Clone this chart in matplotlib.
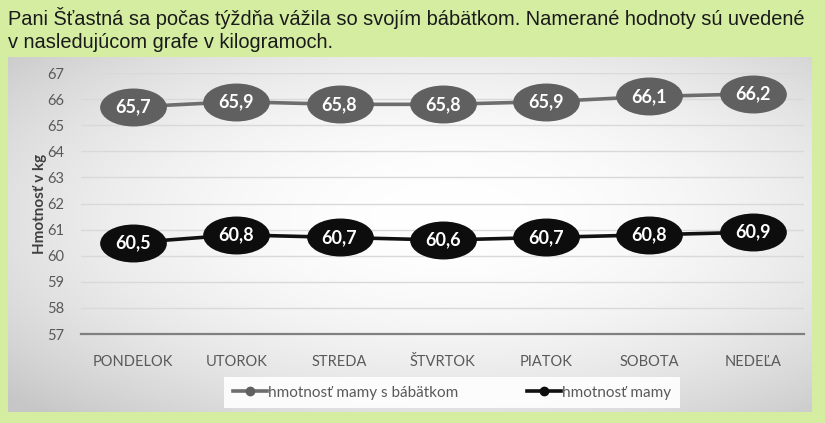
import numpy as np
import matplotlib
matplotlib.use("Agg")
import matplotlib.pyplot as plt
from matplotlib.path import Path
from matplotlib.lines import Line2D

days = ["PONDELOK", "UTOROK", "STREDA", "ŠTVRTOK", "PIATOK", "SOBOTA", "NEDEĽA"]
s_babatkom = [65.7, 65.9, 65.8, 65.8, 65.9, 66.1, 66.2]
mama = [60.5, 60.8, 60.7, 60.6, 60.7, 60.8, 60.9]
yticks = list(range(57, 68))

green = "#d5eda1"
fig = plt.figure(figsize=(8.25, 4.23), dpi=100, facecolor=green)

# title text
fig.text(0.010, 0.957, "Pani Šťastná sa počas týždňa vážila so svojím bábätkom. Namerané hodnoty sú uvedené",
         fontsize=14.4, family="Liberation Sans", color="#1a1a1a", va="center")
fig.text(0.010, 0.900, "v nasledujúcom grafe v kilogramoch.",
         fontsize=14.4, family="Liberation Sans", color="#1a1a1a", va="center")

# panel with soft gradient
bg = fig.add_axes([0.0097, 0.026, 0.974, 0.839])
yy, xx = np.mgrid[0:1:200j, 0:1:400j]
r = np.sqrt(((xx - 0.55) / 0.75) ** 2 + ((yy - 0.45) / 0.75) ** 2)
shade = 1.0 - 0.22 * np.clip(r, 0, 1) ** 2
bg.imshow(np.dstack([shade] * 3), aspect="auto", extent=[0, 1, 0, 1], origin="upper")
bg.set_axis_off()

ax = fig.add_axes([0.0985, 0.2104, 0.8765, 0.617])
ax.set_facecolor("none")
x = np.arange(len(days))
ax.set_xlim(-0.5, len(days) - 0.5)
ax.set_ylim(57, 67)
ax.set_yticks(yticks)
ax.set_yticklabels([str(v) for v in yticks])
ax.set_xticks(x)
ax.set_xticklabels(days)
for sp in ["top", "right", "left"]:
    ax.spines[sp].set_visible(False)
ax.spines["bottom"].set_color("#808080")
ax.spines["bottom"].set_linewidth(1.6)
ax.tick_params(length=0, colors="#595959", labelsize=10.5)
ax.tick_params(axis="x", pad=15)
ax.tick_params(axis="y", pad=12)
for lab in ax.get_xticklabels() + ax.get_yticklabels():
    lab.set_family("Lato")
ax.grid(axis="y", color="#d9d9d9", linewidth=1.0)
ax.set_axisbelow(True)
ax.set_ylabel("Hmotnosť v kg", family="Lato", fontsize=11, fontweight="bold",
              color="#404040", labelpad=0)

circ = Path.unit_circle()
ell = Path(circ.vertices * np.array([1.0, 0.56]), circ.codes)

series = [(s_babatkom, "#606060", "#6d6d6d", "hmotnosť mamy s bábätkom"),
          (mama, "#0d0d0d", "#111111", "hmotnosť mamy")]
handles = []
for vals, fill, lc, name in series:
    ax.plot(x, vals, color=lc, linewidth=2.6, zorder=3)
    ax.plot(x, vals, ls="none", marker=ell, markersize=47, markerfacecolor=fill,
            markeredgecolor=fill, zorder=4)
    for xi, v in zip(x, vals):
        ax.text(xi, v, f"{v:.1f}".replace(".", ","), ha="center", va="center",
                color="white", fontsize=13, fontweight="bold", family="Lato", zorder=5)
    handles.append(Line2D([], [], color=lc, linewidth=2.6, marker="o", markersize=6,
                          markerfacecolor=fill, markeredgecolor=fill, label=name))

leg = fig.legend(handles=handles, loc="center", bbox_to_anchor=(0.548, 0.072), ncol=2,
                 frameon=True, handlelength=2.2, handletextpad=0.1,
                 columnspacing=4.5, borderpad=0.35, prop={"family": "Lato", "size": 11})
leg.get_frame().set_facecolor("white")
leg.get_frame().set_edgecolor("none")
leg.get_frame().set_alpha(0.9)
leg.get_frame().set_boxstyle("square", pad=0.2)
for t in leg.get_texts():
    t.set_color("#595959")

fig.savefig("out.png", dpi=100, facecolor=green)
